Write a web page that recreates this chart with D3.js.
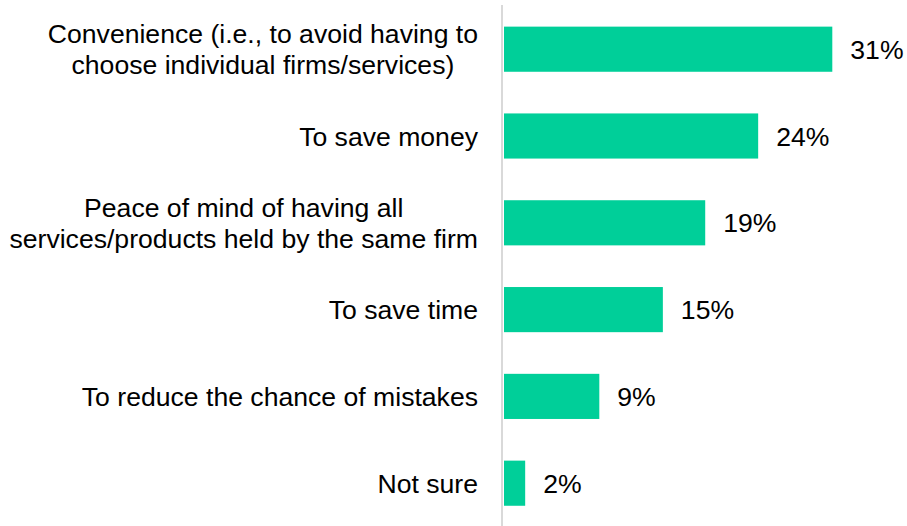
<!DOCTYPE html>
<html>
<head>
<meta charset="utf-8">
<script src="https://cdn.jsdelivr.net/npm/d3@7"></script>
<style>
  html, body { margin: 0; padding: 0; background: #fff; }
  svg { display: block; font-family: "Liberation Sans", Arial, sans-serif; }
</style>
</head>
<body>
<svg id="chart" width="907" height="526"></svg>
<script>
// Reasons for holding products with one firm (share of respondents, %)
const categories = [
  ["Convenience (i.e., to avoid having to", "choose individual firms/services)"],
  ["To save money"],
  ["Peace of mind of having all", "services/products held by the same firm"],
  ["To save time"],
  ["To reduce the chance of mistakes"],
  ["Not sure"]
];
const values = [31, 24, 19, 15, 9, 2];
const valueLabels = ["31%", "24%", "19%", "15%", "9%", "2%"];

const svg = d3.select("#chart");
const fontSize = 26.6;
const barColor = "#00CF99";
const labelRight = 478;

const ids = d3.range(values.length);

const y = d3.scaleBand()
  .domain(ids)
  .range([5.8, 526.6])
  .paddingInner(0.48)
  .paddingOuter(0.24);

const x = d3.scaleLinear()
  .domain([0, 31])
  .range([504, 832.3]);

// Bars
svg.append("g")
  .selectAll("rect")
  .data(ids)
  .join("rect")
  .attr("x", x(0))
  .attr("y", i => y(i))
  .attr("width", i => x(values[i]) - x(0))
  .attr("height", y.bandwidth())
  .attr("fill", barColor);

// Vertical baseline axis
svg.append("line")
  .attr("x1", 502).attr("x2", 502)
  .attr("y1", 5).attr("y2", 526)
  .attr("stroke", "#d9d9d9")
  .attr("stroke-width", 2);

// Category labels: block right-aligned to the axis, lines centred within the block
const lineGap = 31;
const labels = svg.append("g")
  .selectAll("text")
  .data(ids)
  .join("text")
  .attr("text-anchor", "middle")
  .attr("font-size", fontSize)
  .attr("fill", "#000");

labels.each(function (i) {
  const lines = categories[i];
  const cy = y(i) + y.bandwidth() / 2;
  const first = cy - (lines.length - 1) * lineGap / 2;
  const spans = d3.select(this).selectAll("tspan")
    .data(lines)
    .join("tspan")
    .attr("y", (d, k) => first + k * lineGap + fontSize * 0.36)
    .text(d => d);
  let maxW = 0;
  spans.each(function () { maxW = Math.max(maxW, this.getComputedTextLength()); });
  spans.attr("x", labelRight - maxW / 2);
});

// Value labels
svg.append("g")
  .selectAll("text")
  .data(ids)
  .join("text")
  .attr("x", i => x(values[i]) + 18)
  .attr("y", i => y(i) + y.bandwidth() / 2 + fontSize * 0.36)
  .attr("font-size", fontSize)
  .attr("fill", "#000")
  .text(i => valueLabels[i]);
</script>
</body>
</html>
